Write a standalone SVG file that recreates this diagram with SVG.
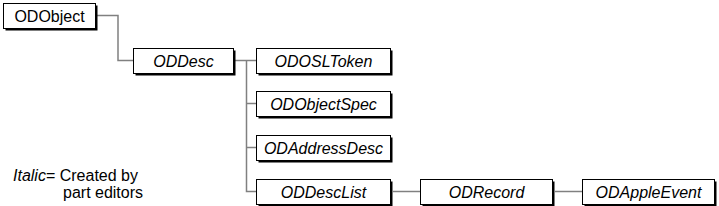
<svg xmlns="http://www.w3.org/2000/svg" width="719" height="206" viewBox="0 0 719 206">
<style>
.sh{fill:#000}
.bx{fill:#fff;stroke:#000;stroke-width:1}
.t{font-family:"Liberation Sans",Arial,sans-serif;font-size:16px;text-anchor:middle}
.i{font-style:italic}
.c{fill:none;stroke:#808080;stroke-width:1.5}
.lg{font-family:"Liberation Sans",Arial,sans-serif;font-size:16px}
</style>
<rect width="719" height="206" fill="#fff"/>
<g id="connectors">
<path class="c" d="M97,15.5 H118 V60.5 H133"/>
<path class="c" d="M235,60.5 H256"/>
<path class="c" d="M246.5,60.5 V191.5 H256"/>
<path class="c" d="M246.5,103.5 H256"/>
<path class="c" d="M246.5,147.5 H256"/>
<path class="c" d="M393,191.5 H420"/>
<path class="c" d="M555,191.5 H582"/>
</g>
<g id="ODObject"><rect class="sh" x="5.5" y="5.5" width="92" height="25"/><rect class="bx" x="3.5" y="3.5" width="92" height="25"/><text class="t" x="49.5" y="21.5">ODObject</text></g>
<g id="ODDesc"><rect class="sh" x="135.5" y="50.5" width="100" height="25"/><rect class="bx" x="133.5" y="48.5" width="100" height="25"/><text class="t i" x="183.5" y="66.5">ODDesc</text></g>
<g id="ODOSLToken"><rect class="sh" x="258.5" y="50.5" width="134" height="25"/><rect class="bx" x="256.5" y="48.5" width="134" height="25"/><text class="t i" x="323.5" y="66.5">ODOSLToken</text></g>
<g id="ODObjectSpec"><rect class="sh" x="258.5" y="93.5" width="134" height="25"/><rect class="bx" x="256.5" y="91.5" width="134" height="25"/><text class="t i" x="323.5" y="109.5">ODObjectSpec</text></g>
<g id="ODAddressDesc"><rect class="sh" x="258.5" y="137.5" width="134" height="25"/><rect class="bx" x="256.5" y="135.5" width="134" height="25"/><text class="t i" x="323.5" y="153.5">ODAddressDesc</text></g>
<g id="ODDescList"><rect class="sh" x="258.5" y="181.5" width="134" height="25"/><rect class="bx" x="256.5" y="179.5" width="134" height="25"/><text class="t i" x="323.5" y="197.5">ODDescList</text></g>
<g id="ODRecord"><rect class="sh" x="422.5" y="181.5" width="132" height="25"/><rect class="bx" x="420.5" y="179.5" width="132" height="25"/><text class="t i" x="486.5" y="197.5">ODRecord</text></g>
<g id="ODAppleEvent"><rect class="sh" x="584.5" y="181.5" width="132" height="25"/><rect class="bx" x="582.5" y="179.5" width="132" height="25"/><text class="t i" x="648.5" y="197.5">ODAppleEvent</text></g>
<g id="legend">
<text class="lg" x="13" y="181"><tspan font-style="italic">Italic</tspan>= Created by</text>
<text class="lg" x="63" y="198">part editors</text>
</g>
</svg>
